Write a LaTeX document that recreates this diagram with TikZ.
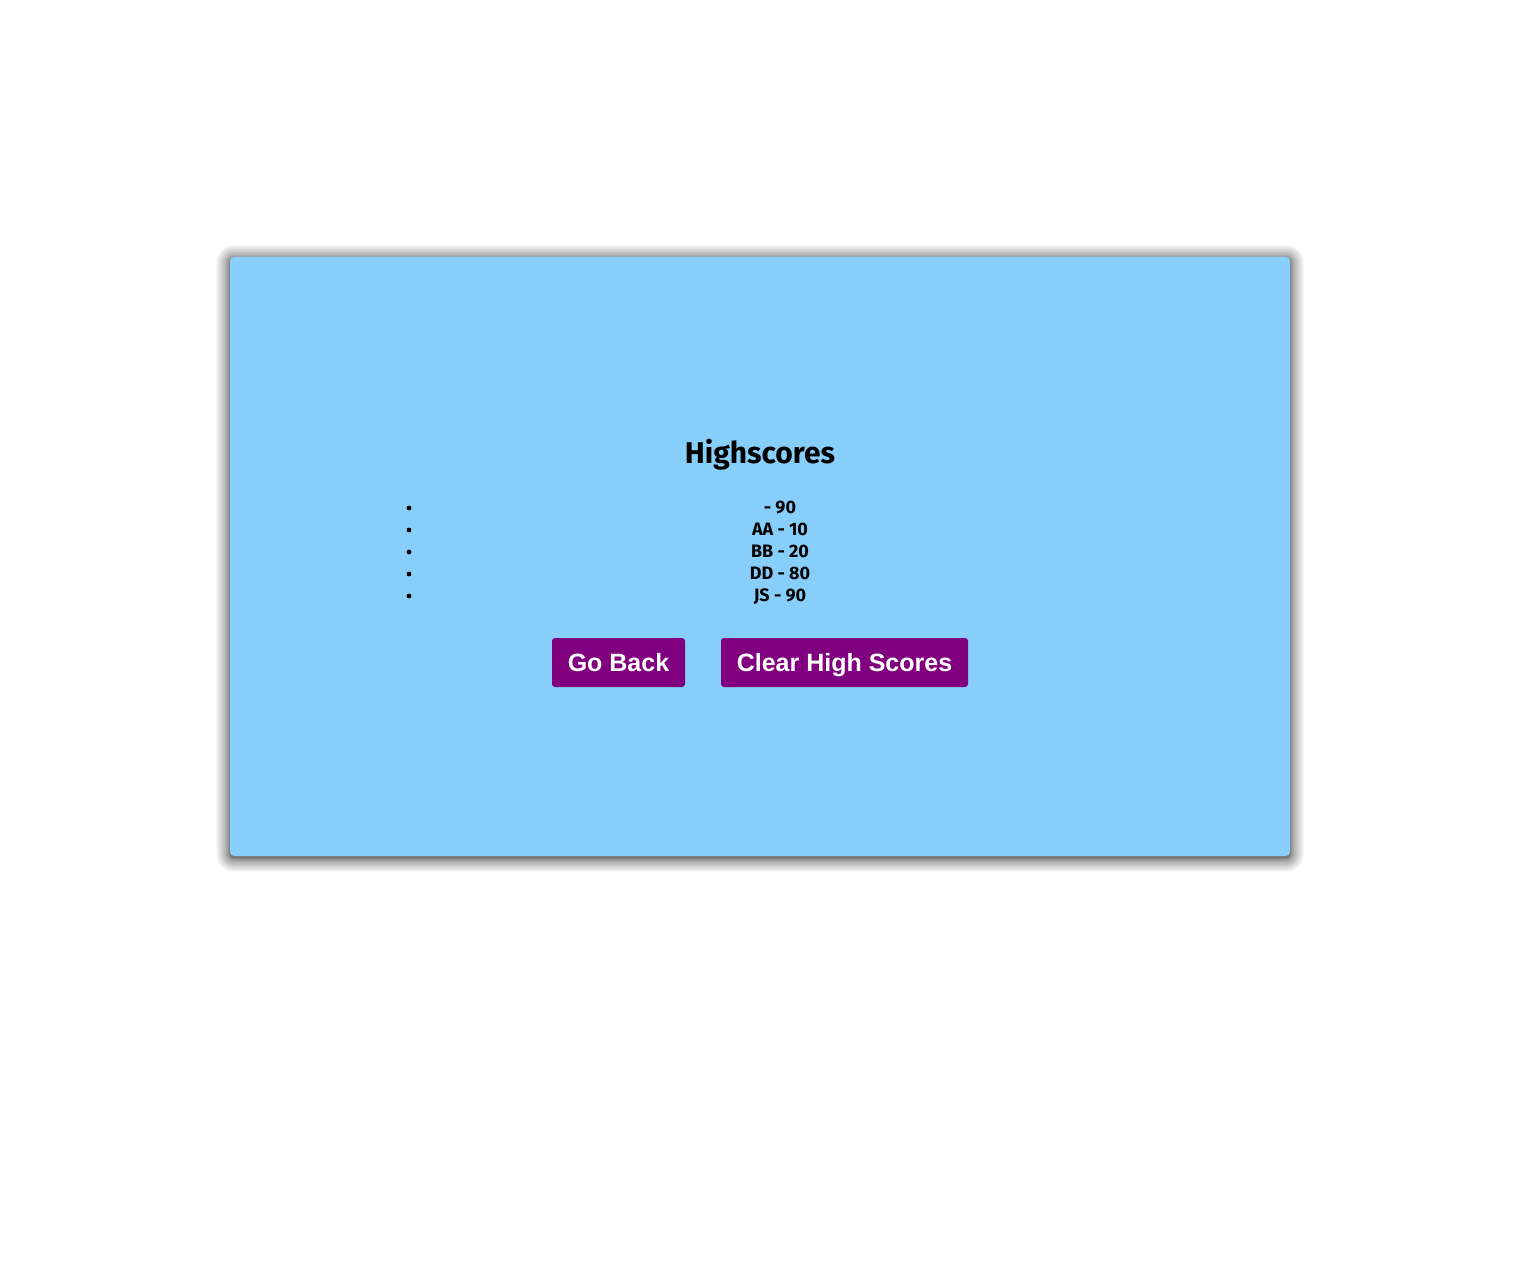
\documentclass[tikz,border=0pt]{standalone}
\usepackage{fontspec}
\usepackage{tikz}
\newfontfamily\scorefont{Fira Sans}
\newfontfamily\buttonfont{Liberation Sans}
\definecolor{skyback}{HTML}{87CEFA}
\definecolor{btnpurple}{HTML}{800080}

\begin{document}
\begin{tikzpicture}[x=0.5pt, y=-0.5pt]

% styles
\tikzstyle{btn}=[fill=btnpurple, rounded corners=1.5pt, text=white, font=\buttonfont\bfseries\fontsize{12.5}{14}\selectfont, inner sep=0pt, text height=9pt, text depth=0pt, minimum height=24.5pt]
\tikzstyle{entry}=[font=\scorefont\bfseries\fontsize{9}{10}\selectfont, inner sep=0pt, anchor=base]
\tikzstyle{dot}=[circle, fill=black, inner sep=0pt, minimum size=2.4pt]

% page
\useasboundingbox (0,0) rectangle (1520,1283);
\fill[white] (0,0) rectangle (1520,1283);

% shadow
\foreach \s in {1,...,14}{
  \pgfmathsetmacro{\d}{0.07*\s*\s}
  \fill[black, opacity=0.05, rounded corners=2pt+0.5*\d] (230-\d,257-\d+2) rectangle (1290+\d,856+\d+2);
}

% panel
\fill[skyback, rounded corners=2pt] (230,257) rectangle (1290,856);

% title
\node[font=\scorefont\bfseries\fontsize{15}{18}\selectfont, inner sep=0pt] (title) at (760,455) {Highscores};

% list
\pgfmathsetmacro{\xb}{409}
\node[dot] (b1) at (\xb,508) {};
\node[dot] (b2) at (\xb,530) {};
\node[dot] (b3) at (\xb,552) {};
\node[dot] (b4) at (\xb,574) {};
\node[dot] (b5) at (\xb,596) {};

\node[entry] (e1) at (780,513) {- 90};
\node[entry] (e2) at (780,535) {AA - 10};
\node[entry] (e3) at (780,557) {BB - 20};
\node[entry] (e4) at (780,579) {DD - 80};
\node[entry] (e5) at (780,601) {JS - 90};

% buttons
\node[btn, minimum width=66.5pt] (back) at (618.5,662.5) {Go Back};
\node[btn, minimum width=123.5pt] (clear) at (844.5,662.5) {Clear High Scores};

\end{tikzpicture}
\end{document}
